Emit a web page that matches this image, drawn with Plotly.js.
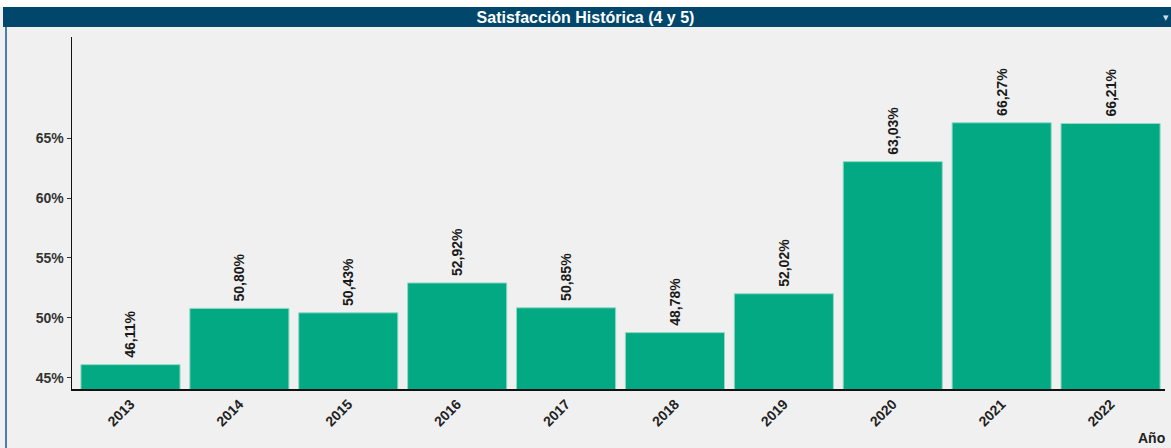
<!DOCTYPE html>
<html>
<head>
<meta charset="utf-8">
<script src="https://cdn.plot.ly/plotly-3.0.1.min.js"></script>
<style>
html,body{margin:0;padding:0;background:#ffffff;}
#chart{width:1171px;height:448px;}
</style>
</head>
<body>
<div id="chart"></div>
<script>
const years = ['2013','2014','2015','2016','2017','2018','2019','2020','2021','2022'];
const satisfaction = [46.11, 50.80, 50.43, 52.92, 50.85, 48.78, 52.02, 63.03, 66.27, 66.21];
const yTicks = [45, 50, 55, 60, 65];
const titleText = 'Satisfacción Histórica (4 y 5)';
const xTitle = 'Año';

const labels = satisfaction.map(v => '\u00a0' + v.toFixed(2).replace('.', ',') + '%');

const W = 1171, H = 448;
const L = 72, R = 6, T = 37, B = 59;
const pw = W - L - R, ph = H - T - B;
const px = x => (x - L) / pw;
const py = y => (H - B - y) / ph;

const trace = {
  type: 'bar',
  x: years,
  y: satisfaction,
  text: labels,
  textposition: 'outside',
  textangle: -90,
  cliponaxis: false,
  textfont: {family: 'Liberation Sans, Arial, sans-serif', size: 14, color: '#1a1a1a', weight: 'bold'},
  marker: {color: '#03a982', line: {color: '#8fd9c5', width: 1}},
  hoverinfo: 'none'
};

const layout = {
  width: W, height: H,
  margin: {l: L, r: R, t: T, b: B, pad: 0},
  paper_bgcolor: '#f0f0f0',
  plot_bgcolor: '#f0f0f0',
  bargap: 0.09,
  showlegend: false,
  title: {
    text: titleText,
    font: {family: 'Liberation Sans, Arial, sans-serif', size: 16, color: '#ffffff', weight: 'bold'},
    x: 0.5, xanchor: 'center', xref: 'container',
    y: 1 - 17 / H, yanchor: 'middle', yref: 'container'
  },
  xaxis: {
    type: 'category',
    range: [-0.537, 9.5],
    showline: true, linecolor: '#111111', linewidth: 1.5,
    ticks: '', tickangle: -45,
    tickfont: {family: 'Liberation Sans, Arial, sans-serif', size: 14, color: '#222222', weight: 'bold'},
    showgrid: false, zeroline: false, fixedrange: true
  },
  yaxis: {
    range: [44.08, 73.42],
    tickvals: yTicks,
    ticktext: yTicks.map(v => v + '%'),
    showline: true, linecolor: '#111111', linewidth: 1.5,
    ticks: 'outside', ticklen: 4, tickcolor: '#333333',
    tickfont: {family: 'Liberation Sans, Arial, sans-serif', size: 14, color: '#333333', weight: 'bold'},
    showgrid: false, zeroline: false, fixedrange: true
  },
  shapes: [
    {type: 'rect', xref: 'paper', yref: 'paper', x0: px(-5), x1: px(1180), y0: py(-5), y1: py(7), fillcolor: '#ffffff', line: {width: 0}, layer: 'below'},
    {type: 'rect', xref: 'paper', yref: 'paper', x0: px(3), x1: px(1180), y0: py(27), y1: py(7), fillcolor: '#00476b', line: {width: 0}, layer: 'below'},
    {type: 'line', xref: 'paper', yref: 'paper', x0: px(6), x1: px(6), y0: py(27), y1: py(450), line: {color: '#4a7fa8', width: 2}}
  ],
  annotations: [
    {text: xTitle, xref: 'paper', yref: 'paper', x: px(1151), y: py(438), xanchor: 'center', yanchor: 'middle', showarrow: false,
     font: {family: 'Liberation Sans, Arial, sans-serif', size: 14, color: '#222222', weight: 'bold'}},
    {text: '▼', xref: 'paper', yref: 'paper', x: px(1166), y: py(18), xanchor: 'center', yanchor: 'middle', showarrow: false,
     font: {family: 'DejaVu Sans, sans-serif', size: 7, color: '#cfe0ea'}}
  ]
};

Plotly.newPlot('chart', [trace], layout, {displayModeBar: false, staticPlot: true});
</script>
</body>
</html>
